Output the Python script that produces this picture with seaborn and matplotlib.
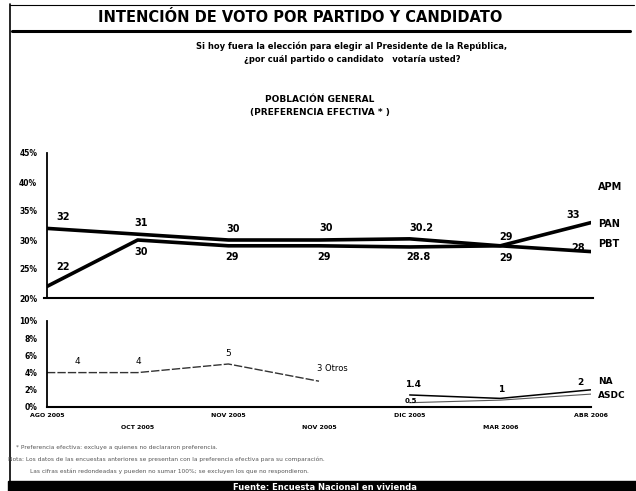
import pandas as pd
import matplotlib.pyplot as plt
import seaborn as sns
from matplotlib.lines import Line2D
from matplotlib.patches import Rectangle

# Datos
fechas = ["AGO 2005", "OCT 2005", "NOV 2005", "NOV 2005", "DIC 2005", "MAR 2006", "ABR 2006"]
pbt = [32, 31, 30, 30, 30.2, 29, 28]
pan = [22, 30, 29, 29, 28.8, 29, 33]
otros = [4, 4, 5, 3]
nueva_alianza = [1.4, 1, 2]
alternativa = [0.5, 0.8, 1.5]

sns.set_style("white")
plt.rcParams['font.family'] = ['DejaVu Sans']
plt.rcParams.update({"text.color": "black", "xtick.color": "black",
                     "ytick.color": "black", "axes.edgecolor": "black"})

W, H = 636, 491
fig = plt.figure(figsize=(W / 100, H / 100), dpi=100)


def fx(px):
    return px / W


def fy(py):
    return 1 - py / H


def px2pt(v):
    return v * 72 / 100


# posiciones de los ejes (pixeles de la imagen)
ax1 = fig.add_axes([fx(47), fy(298), fx(591) - fx(47), fy(153) - fy(298)])
ax2 = fig.add_axes([fx(47), fy(407), fx(591) - fx(47), fy(321) - fy(407)])

x_all = list(range(len(fechas)))
df_top = pd.DataFrame({
    "x": x_all * 2,
    "valor": pbt + pan,
    "serie": ["PBT"] * len(pbt) + ["PAN"] * len(pan),
})
sns.lineplot(data=df_top, x="x", y="valor", hue="serie",
             palette={"PBT": "black", "PAN": "black"}, linewidth=2.6,
             legend=False, ax=ax1)

ax1.set_xlim(0, 6)
ax1.set_ylim(20, 45)
ax1.set_yticks([20, 25, 30, 35, 40, 45])
ax1.set_yticklabels([f"{v}%" for v in [20, 25, 30, 35, 40, 45]],
                    fontsize=5.5, fontweight="bold")
ax1.set_xticks([])
ax1.set_xlabel("")
ax1.set_ylabel("")
ax1.tick_params(axis="y", length=5, width=1.2, direction="out", pad=2)
for s in ["top", "right"]:
    ax1.spines[s].set_visible(False)
ax1.spines["left"].set_linewidth(1.3)
ax1.spines["bottom"].set_linewidth(1.5)
ax1.spines["bottom"].set_bounds(-0.03, 6.02)
ax1.patch.set_alpha(0)

# etiquetas de valores (desplazamientos en pixeles)
off_pbt = [(16, 11), (3, 11), (5, 11), (7, 12), (12, 11), (6, 9), (-13, 4)]
off_pan = [(16, 19), (3, -12), (4, -11), (5, -11), (9, -10), (6, -12), (-18, 8)]
for i in x_all:
    ax1.annotate(f"{pbt[i]:g}", (i, pbt[i]), textcoords="offset points",
                 xytext=(px2pt(off_pbt[i][0]), px2pt(off_pbt[i][1])),
                 ha="center", va="center", fontsize=7, fontweight="bold")
    ax1.annotate(f"{pan[i]:g}", (i, pan[i]), textcoords="offset points",
                 xytext=(px2pt(off_pan[i][0]), px2pt(off_pan[i][1])),
                 ha="center", va="center", fontsize=7, fontweight="bold")

# gráfica inferior
df_low = pd.DataFrame({
    "x": x_all[:4] + x_all[4:] + x_all[4:],
    "valor": otros + nueva_alianza + alternativa,
    "serie": ["Otros"] * 4 + ["NA"] * 3 + ["ASDC"] * 3,
})
sns.lineplot(data=df_low[df_low.serie == "Otros"], x="x", y="valor",
             color="#333333", linewidth=1.0, ax=ax2, legend=False)
ax2.lines[-1].set_dashes([6, 1.5])
sns.lineplot(data=df_low[df_low.serie == "NA"], x="x", y="valor",
             color="black", linewidth=1.1, ax=ax2, legend=False)
sns.lineplot(data=df_low[df_low.serie == "ASDC"], x="x", y="valor",
             color="#555555", linewidth=0.8, ax=ax2, legend=False)

ax2.set_xlim(0, 6)
ax2.set_ylim(0, 10)
ax2.set_yticks([0, 2, 4, 6, 8, 10])
ax2.set_yticklabels([f"{v}%" for v in [0, 2, 4, 6, 8, 10]],
                    fontsize=5.5, fontweight="bold")
ax2.set_xticks(x_all)
ax2.set_xticklabels([f if i % 2 == 0 else "\n\n" + f for i, f in enumerate(fechas)],
                    fontsize=4.5, fontweight="bold", linespacing=1.2)
ax2.set_xlabel("")
ax2.set_ylabel("")
ax2.tick_params(axis="y", length=5, width=1.2, direction="out", pad=2)
ax2.tick_params(axis="x", length=4, width=1.2, direction="out", pad=0.5)
for s in ["top", "right"]:
    ax2.spines[s].set_visible(False)
ax2.spines["left"].set_linewidth(1.3)
ax2.spines["bottom"].set_linewidth(1.5)
ax2.patch.set_alpha(0)

off_otros = [(30, 11), (1, 11), (0, 11)]
for i in range(3):
    ax2.annotate(f"{otros[i]:g}", (i, otros[i]), textcoords="offset points",
                 xytext=(px2pt(off_otros[i][0]), px2pt(off_otros[i][1])),
                 ha="center", va="center", fontsize=6.5)
ax2.annotate("3 Otros", (3, otros[3]), textcoords="offset points",
             xytext=(px2pt(-2), px2pt(13)), ha="left", va="center", fontsize=6)
off_na = [(3, 10), (1, 9), (-11, 7)]
for k, i in enumerate(range(4, 7)):
    ax2.annotate(f"{nueva_alianza[k]:g}", (i, nueva_alianza[k]), textcoords="offset points",
                 xytext=(px2pt(off_na[k][0]), px2pt(off_na[k][1])),
                 ha="center", va="center", fontsize=6.5, fontweight="bold")
ax2.annotate(f"{alternativa[0]:g}", (4, alternativa[0]), textcoords="offset points",
             xytext=(px2pt(1), px2pt(2)), ha="center", va="center", fontsize=5,
             fontweight="bold")

# nombres de partidos al final de las líneas
for txt, yy in [("APM", 187), ("PAN", 224), ("PBT", 244)]:
    fig.text(fx(598), fy(yy), txt, ha="left", va="center", fontsize=7, fontweight="bold")
for txt, yy in [("NA", 381), ("ASDC", 395)]:
    fig.text(fx(598), fy(yy), txt, ha="left", va="center", fontsize=6.5, fontweight="bold")

# títulos
fig.text(fx(300), fy(17), "INTENCIÓN DE VOTO POR PARTIDO Y CANDIDATO",
         ha="center", va="center", fontsize=10.5, fontweight="bold")
fig.text(fx(352), fy(46), "Si hoy fuera la elección para elegir al Presidente de la República,",
         ha="center", va="center", fontsize=6, fontweight="bold")
fig.text(fx(352), fy(59), "¿por cuál partido o candidato   votaría usted?",
         ha="center", va="center", fontsize=6, fontweight="bold")
fig.text(fx(320), fy(100), "POBLACIÓN GENERAL", ha="center", va="center",
         fontsize=6.5, fontweight="bold")
fig.text(fx(320), fy(113), "(PREFERENCIA EFECTIVA * )", ha="center", va="center",
         fontsize=6.5, fontweight="bold")

# notas al pie
notas = [
    (16, 447, "* Preferencia efectiva: excluye a quienes no declararon preferencia."),
    (8, 459, "Nota: Los datos de las encuestas anteriores se presentan con la preferencia efectiva para su comparación."),
    (30, 471, "Las cifras están redondeadas y pueden no sumar 100%; se excluyen los que no respondieron."),
]
for xx, yy, txt in notas:
    fig.text(fx(xx), fy(yy), txt, ha="left", va="center", fontsize=4.2, color="#555555")

# marco de la página
fig.add_artist(Line2D([fx(10), fx(10)], [fy(4), fy(484)], color="black", lw=1.2))
fig.add_artist(Line2D([fx(10), fx(634)], [fy(5), fy(5)], color="black", lw=0.8))
fig.add_artist(Line2D([fx(12), fx(630)], [fy(31), fy(31)], color="black", lw=2.2))
fig.add_artist(Rectangle((fx(8), 0), 1 - fx(8), fy(481), color="black",
                         transform=fig.transFigure))
fig.text(fx(325), fy(487), "Fuente: Encuesta Nacional en vivienda",
         ha="center", va="center", fontsize=6, color="white", fontweight="bold")

fig.savefig("out.png", dpi=100)
